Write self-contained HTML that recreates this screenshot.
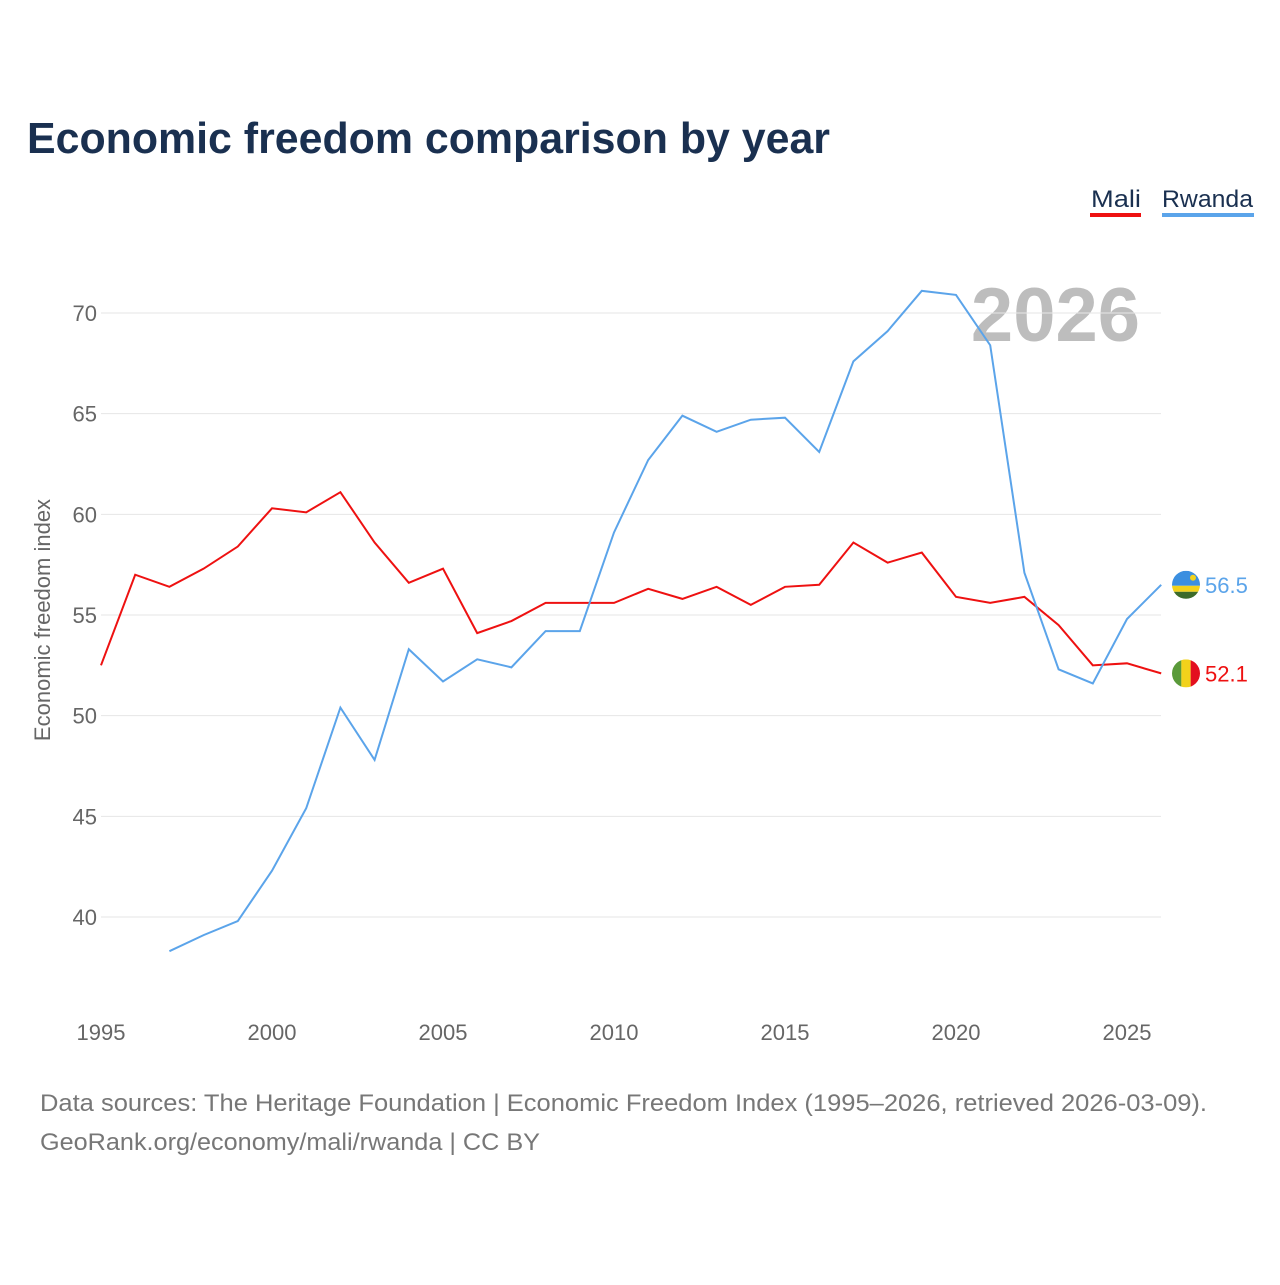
<!DOCTYPE html>
<html><head><meta charset="utf-8"><style>
body{margin:0;background:#fff;font-family:"Liberation Sans",sans-serif;}
</style></head><body>
<svg id="chart" width="1280" height="1280" xmlns="http://www.w3.org/2000/svg">
<defs>
<clipPath id="clipR"><circle cx="1186" cy="585" r="14"/></clipPath>
<clipPath id="clipM"><circle cx="1186" cy="673" r="14"/></clipPath>
</defs>
<text x="27" y="153" font-size="44" font-weight="bold" fill="#1a3050" textLength="803" lengthAdjust="spacingAndGlyphs">Economic freedom comparison by year</text>
<g>
<text x="1091" y="207" font-size="24" fill="#1a3050" textLength="50" lengthAdjust="spacingAndGlyphs">Mali</text>
<rect x="1090" y="213" width="51" height="4" fill="#ee1111"/>
<text x="1162" y="207" font-size="24" fill="#1a3050" textLength="91" lengthAdjust="spacingAndGlyphs">Rwanda</text>
<rect x="1162" y="213" width="92" height="4" fill="#5ba4ea"/>
</g>
<text x="1140" y="341" font-size="76" font-weight="bold" fill="#bdbdbd" text-anchor="end">2026</text>
<g id="grid"></g>
<g id="yticks"></g>
<g id="xticks"></g>
<text transform="translate(50,620) rotate(-90)" font-size="22" fill="#666" text-anchor="middle">Economic freedom index</text>
<g id="series"></g>
<text x="40" y="1111" font-size="24" fill="#777" textLength="1167" lengthAdjust="spacingAndGlyphs">Data sources: The Heritage Foundation | Economic Freedom Index (1995–2026, retrieved 2026-03-09).</text>
<text x="40" y="1150" font-size="24" fill="#777" textLength="500" lengthAdjust="spacingAndGlyphs">GeoRank.org/economy/mali/rwanda | CC BY</text>
</svg>
<script>
const years=[];for(let y=1995;y<=2026;y++)years.push(y);
const maliValues=[52.5,57.0,56.4,57.3,58.4,60.3,60.1,61.1,58.6,56.6,57.3,54.1,54.7,55.6,55.6,55.6,56.3,55.8,56.4,55.5,56.4,56.5,58.6,57.6,58.1,55.9,55.6,55.9,54.5,52.5,52.6,52.1];
const rwandaValues=[null,null,38.3,39.1,39.8,42.3,45.4,50.4,47.8,53.3,51.7,52.8,52.4,54.2,54.2,59.1,62.7,64.9,64.1,64.7,64.8,63.1,67.6,69.1,71.1,70.9,68.4,57.1,52.3,51.6,54.8,56.5];
const yTicks=[40,45,50,55,60,65,70];
const xTicks=[1995,2000,2005,2010,2015,2020,2025];
const NS="http://www.w3.org/2000/svg";
const xs=y=>101+(y-1995)*34.2;
const ys=v=>313+(70-v)*20.133;
function mk(tag,attrs,parent){const e=document.createElementNS(NS,tag);for(const k in attrs)e.setAttribute(k,attrs[k]);document.getElementById(parent).appendChild(e);return e;}
yTicks.forEach(t=>{
 const l=mk('line',{x1:101,x2:1161,y1:ys(t),y2:ys(t),stroke:'#e6e6e6','stroke-width':1},'grid');
 
 
 const tx=mk('text',{x:97,y:ys(t)+8,'font-size':22,fill:'#666','text-anchor':'end'},'yticks');tx.textContent=t;
 
 
});
xTicks.forEach(t=>{
 const tx=mk('text',{x:xs(t),y:1040,'font-size':22,fill:'#666','text-anchor':'middle'},'xticks');tx.textContent=t;
 
 
});
function line(vals,color,name,flag){
 let d='';vals.forEach((v,i)=>{if(v==null)return;d+=(d?'L':'M')+xs(years[i])+','+ys(v);});
 const p=mk('path',{d:d,fill:'none',stroke:color,'stroke-width':2},'series');
 
 
 const last=vals[vals.length-1],cy=ys(last);
 const g=mk('g',{},'series');
 
 
 const clip=document.getElementById(flag);
 clip.firstElementChild.setAttribute('cy',cy);
 g.setAttribute('clip-path','url(#'+flag+')');
 if(name==='rwanda'){
  [['#3b8fe0',-14,15],['#f2d21b',1,6],['#3d6b2a',7,8]].forEach(s=>{const r=document.createElementNS(NS,'rect');r.setAttribute('x',1172);r.setAttribute('y',cy+s[1]);r.setAttribute('width',28);r.setAttribute('height',s[2]);r.setAttribute('fill',s[0]);g.appendChild(r);});
  const sun=document.createElementNS(NS,'circle');sun.setAttribute('cx',1193);sun.setAttribute('cy',cy-7);sun.setAttribute('r',3);sun.setAttribute('fill','#f2d21b');g.appendChild(sun);
 } else {
  [['#5a9a3a',0],['#f2d21b',9.33],['#e30f1f',18.66]].forEach(s=>{const r=document.createElementNS(NS,'rect');r.setAttribute('x',1172+s[1]);r.setAttribute('y',cy-14);r.setAttribute('width',9.4);r.setAttribute('height',28);r.setAttribute('fill',s[0]);g.appendChild(r);});
 }
 const tx=mk('text',{x:1205,y:cy+8,'font-size':22,fill:color},'series');tx.textContent=last.toFixed(1);
 
 
}
line(maliValues,'#ee1111','mali','clipM');
line(rwandaValues,'#5ba4ea','rwanda','clipR');
</script>
</body></html>
